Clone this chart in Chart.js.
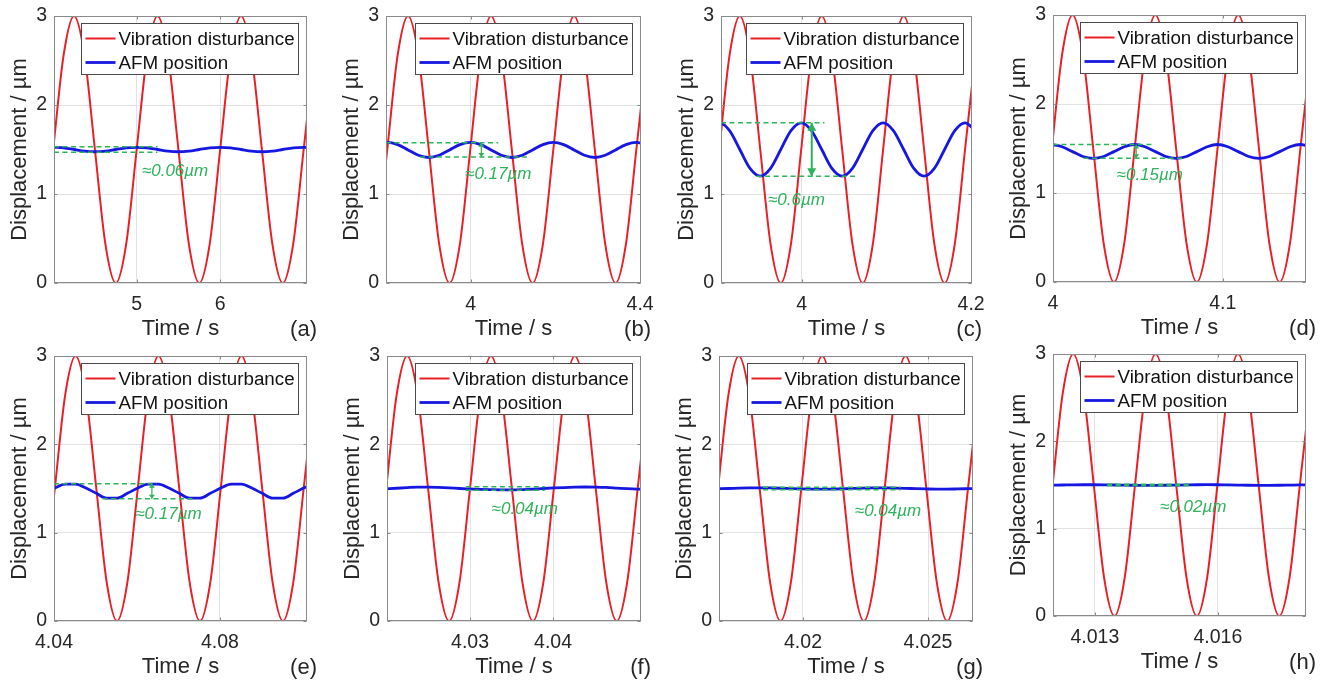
<!DOCTYPE html>
<html>
<head>
<meta charset="utf-8">
<script src="https://cdn.jsdelivr.net/npm/chart.js@4.4.1/dist/chart.umd.min.js"></script>
<style>
  html, body { margin: 0; padding: 0; background: #fff; width: 1320px; height: 686px; overflow: hidden; }
  canvas { position: absolute; }
</style>
</head>
<body>
<script>
// ---- data (time in s, displacement in µm) ----
const tA = [4, 4.125, 4.25, 4.375, 4.5, 4.625, 4.75, 4.875, 5, 5.125, 5.25, 5.375, 5.5, 5.625, 5.75, 5.875, 6, 6.125, 6.25, 6.375, 6.5, 6.625, 6.75, 6.875, 7, 7.125];
const redA = [1.5, 2.56, 3, 2.56, 1.5, 0.44, 0, 0.44, 1.5, 2.56, 3, 2.56, 1.5, 0.44, 0, 0.44, 1.5, 2.56, 3, 2.56, 1.5, 0.44, 0, 0.44, 1.5, 2.56];
const blueA = [1.525, 1.518, 1.5, 1.482, 1.475, 1.482, 1.5, 1.518, 1.525, 1.518, 1.5, 1.482, 1.475, 1.482, 1.5, 1.518, 1.525, 1.518, 1.5, 1.482, 1.475, 1.482, 1.5, 1.518, 1.525, 1.518];

const tB = [3.7785, 3.803, 3.8275, 3.852, 3.8765, 3.901, 3.9255, 3.95, 3.9745, 3.999, 4.0235, 4.048, 4.0725, 4.097, 4.1215, 4.146, 4.1705, 4.195, 4.2195, 4.244, 4.2685, 4.293, 4.3175, 4.342, 4.3665, 4.391, 4.4155];
const redB = [0.44, 1.5, 2.56, 3, 2.56, 1.5, 0.44, 0, 0.44, 1.5, 2.56, 3, 2.56, 1.5, 0.44, 0, 0.44, 1.5, 2.56, 3, 2.56, 1.5, 0.44, 0, 0.44, 1.5, 2.56];
const blueB = [1.555, 1.58, 1.555, 1.495, 1.435, 1.41, 1.435, 1.495, 1.555, 1.58, 1.555, 1.495, 1.435, 1.41, 1.435, 1.495, 1.555, 1.58, 1.555, 1.495, 1.435, 1.41, 1.435, 1.495, 1.555, 1.58, 1.555];

const tC = [3.8909, 3.903, 3.9151, 3.9272, 3.9392, 3.9513, 3.9634, 3.9755, 3.9875, 3.9996, 4.0117, 4.0238, 4.0358, 4.0479, 4.06, 4.0721, 4.0841, 4.0962, 4.1083, 4.1204, 4.1324, 4.1445, 4.1566, 4.1687, 4.1807, 4.1928, 4.2049];
const redC = [0.44, 1.5, 2.56, 3, 2.56, 1.5, 0.44, 0, 0.44, 1.5, 2.56, 3, 2.56, 1.5, 0.44, 0, 0.44, 1.5, 2.56, 3, 2.56, 1.5, 0.44, 0, 0.44, 1.5, 2.56];
const blueC = [1.712, 1.8, 1.712, 1.5, 1.288, 1.2, 1.288, 1.5, 1.712, 1.8, 1.712, 1.5, 1.288, 1.2, 1.288, 1.5, 1.712, 1.8, 1.712, 1.5, 1.288, 1.2, 1.288, 1.5, 1.712, 1.8, 1.712];

const tD = [3.9993, 4.0054, 4.0115, 4.0176, 4.0237, 4.0298, 4.0359, 4.042, 4.0481, 4.0542, 4.0603, 4.0664, 4.0725, 4.0786, 4.0847, 4.0908, 4.0969, 4.103, 4.1091, 4.1152, 4.1213, 4.1274, 4.1335, 4.1396, 4.1457, 4.1518];
const redD = [1.5, 2.56, 3, 2.56, 1.5, 0.44, 0, 0.44, 1.5, 2.56, 3, 2.56, 1.5, 0.44, 0, 0.44, 1.5, 2.56, 3, 2.56, 1.5, 0.44, 0, 0.44, 1.5, 2.56];
const blueD = [1.545, 1.52, 1.465, 1.41, 1.39, 1.41, 1.465, 1.52, 1.545, 1.52, 1.465, 1.41, 1.39, 1.41, 1.465, 1.52, 1.545, 1.52, 1.465, 1.41, 1.39, 1.41, 1.465, 1.52, 1.545, 1.52];

const tE = [4.0377, 4.0402, 4.0427, 4.0452, 4.0477, 4.0502, 4.0527, 4.0552, 4.0577, 4.0602, 4.0627, 4.0652, 4.0677, 4.0702, 4.0727, 4.0752, 4.0777, 4.0802, 4.0827, 4.0852, 4.0877, 4.0902, 4.0927, 4.0952, 4.0977, 4.1002, 4.1027];
const redE = [0.44, 1.5, 2.56, 3, 2.56, 1.5, 0.44, 0, 0.44, 1.5, 2.56, 3, 2.56, 1.5, 0.44, 0, 0.44, 1.5, 2.56, 3, 2.56, 1.5, 0.44, 0, 0.44, 1.5, 2.56];
const blueE = [1.445, 1.505, 1.55, 1.55, 1.505, 1.445, 1.39, 1.39, 1.445, 1.505, 1.55, 1.55, 1.505, 1.445, 1.39, 1.39, 1.445, 1.505, 1.55, 1.55, 1.505, 1.445, 1.39, 1.39, 1.445, 1.505, 1.55];

const tF = [4.0199, 4.02116, 4.02243, 4.02369, 4.02495, 4.02621, 4.02748, 4.02874, 4.03, 4.03126, 4.03253, 4.03379, 4.03505, 4.03631, 4.03758, 4.03884, 4.0401, 4.04136, 4.04263, 4.04389, 4.04515, 4.04641, 4.04768, 4.04894, 4.0502, 4.05146];
const redF = [1.5, 2.56, 3, 2.56, 1.5, 0.44, 0, 0.44, 1.5, 2.56, 3, 2.56, 1.5, 0.44, 0, 0.44, 1.5, 2.56, 3, 2.56, 1.5, 0.44, 0, 0.44, 1.5, 2.56];
const blueF = [1.495, 1.503, 1.51, 1.515, 1.515, 1.512, 1.507, 1.5, 1.495, 1.49, 1.487, 1.485, 1.485, 1.488, 1.493, 1.5, 1.506, 1.511, 1.515, 1.517, 1.516, 1.512, 1.505, 1.498, 1.493, 1.49];

const tG = [4.0166, 4.017017, 4.017433, 4.01785, 4.018267, 4.018683, 4.0191, 4.019517, 4.019933, 4.02035, 4.020767, 4.021183, 4.0216, 4.022017, 4.022433, 4.02285, 4.023267, 4.023683, 4.0241, 4.024517, 4.024933, 4.02535, 4.025767, 4.026183, 4.0266, 4.027017];
const redG = [1.5, 2.56, 3, 2.56, 1.5, 0.44, 0, 0.44, 1.5, 2.56, 3, 2.56, 1.5, 0.44, 0, 0.44, 1.5, 2.56, 3, 2.56, 1.5, 0.44, 0, 0.44, 1.5, 2.56];
const blueG = [1.497, 1.5, 1.504, 1.507, 1.508, 1.506, 1.503, 1.499, 1.496, 1.494, 1.493, 1.494, 1.497, 1.501, 1.505, 1.507, 1.507, 1.505, 1.502, 1.498, 1.495, 1.493, 1.493, 1.495, 1.498, 1.501];

const tH = [4.01197, 4.012221, 4.012473, 4.012724, 4.012975, 4.013226, 4.013478, 4.013729, 4.01398, 4.014231, 4.014483, 4.014734, 4.014985, 4.015236, 4.015488, 4.015739, 4.01599, 4.016241, 4.016493, 4.016744, 4.016995, 4.017246, 4.017498, 4.017749, 4.018, 4.018251];
const redH = [1.5, 2.56, 3, 2.56, 1.5, 0.44, 0, 0.44, 1.5, 2.56, 3, 2.56, 1.5, 0.44, 0, 0.44, 1.5, 2.56, 3, 2.56, 1.5, 0.44, 0, 0.44, 1.5, 2.56];
const blueH = [1.498, 1.5, 1.502, 1.503, 1.503, 1.502, 1.5, 1.498, 1.497, 1.496, 1.496, 1.497, 1.499, 1.501, 1.503, 1.504, 1.503, 1.501, 1.499, 1.497, 1.496, 1.496, 1.497, 1.499, 1.501, 1.502];

// axis ranges and ticks per panel
const xMin = [4.01, 3.80, 3.905, 4.0, 4.04, 4.02, 4.01664, 4.01198];
const xMax = [7.04, 4.402, 4.201, 4.149, 4.101, 4.0506, 4.0268, 4.01815];
const xTicks = [[5, 6], [4, 4.4], [4, 4.2], [4, 4.1], [4.04, 4.08], [4.03, 4.04], [4.02, 4.025], [4.013, 4.016]];
const xTickLabels = [['5', '6'], ['4', '4.4'], ['4', '4.2'], ['4', '4.1'], ['4.04', '4.08'], ['4.03', '4.04'], ['4.02', '4.025'], ['4.013', '4.016']];
const yTicks = [0, 1, 2, 3];
const yTickLabels = ['0', '1', '2', '3'];
const panelLetters = ['(a)', '(b)', '(c)', '(d)', '(e)', '(f)', '(g)', '(h)'];
const seriesNames = ['Vibration disturbance', 'AFM position'];

// green peak-to-peak markers
const gapHi = [1.53, 1.575, 1.8, 1.545, 1.555, 1.52, 1.515, 1.51];
const gapLo = [1.47, 1.415, 1.2, 1.39, 1.385, 1.48, 1.485, 1.49];
const hiFrom = [4.01, 3.80, 3.905, 4.0, 4.04, 4.0295, 4.0184, 4.0133];
const hiTo = [5.25, 4.065, 4.027, 4.058, 4.0647, 4.039, 4.0239, 4.0153];
const loFrom = [4.01, 3.88, 3.947, 4.018, 4.0517, 4.0295, 4.0184, 4.0133];
const loTo = [5.25, 4.134, 4.066, 4.076, 4.074, 4.039, 4.0239, 4.0153];
const arrowX = [null, 4.025, 4.012, 4.049, 4.0636, null, null, null];
const labelX = [5.46, 4.065, 3.994, 4.057, 4.0676, 4.0366, 4.0234, 4.0154];
const labelY = [1.25, 1.225, 0.93, 1.2, 1.21, 1.26, 1.24, 1.24];
const gapText = ['≈0.06µm', '≈0.17µm', '≈0.6µm', '≈0.15µm', '≈0.17µm', '≈0.04µm', '≈0.04µm', '≈0.02µm'];

const times = [tA, tB, tC, tD, tE, tF, tG, tH];
const reds = [redA, redB, redC, redD, redE, redF, redG, redH];
const blues = [blueA, blueB, blueC, blueD, blueE, blueF, blueG, blueH];

// ---- layout: plot rectangles [left, top, right, bottom] in page pixels ----
const plotBoxes = [
  [54, 16, 307, 283], [386, 16, 641, 283], [721, 16, 972, 283], [1053, 15, 1306, 282],
  [54, 356, 307, 621], [387, 356, 641, 621], [719, 356, 973, 621], [1053, 354, 1306, 616]
];
const headLen = [0, 4, 8, 4, 4, 0, 0, 0];
const headHalf = [0, 3, 4.5, 3, 3, 0, 0, 0];
const arrowWidth = [1, 1.2, 2, 1.2, 1.2, 1, 1, 1];

const RED = '#ea1f26';
const BLUE = '#1717e2';
const GREEN = '#2db35a';
const TXT = '#262626';
const FRAME = '#8a8a8a';
const FONT = '"Liberation Sans", Arial, Helvetica, sans-serif';

const Y_W = 54, PAD_R = 16, PAD_T = 16, X_H = 60;

Chart.defaults.font.family = FONT;
Chart.defaults.color = TXT;

const panelDecor = {
  id: 'panelDecor',
  afterDatasetsDraw(chart, args, opts) {
    const i = opts.idx;
    const { ctx, chartArea: a, scales: { x, y } } = chart;
    ctx.save();

    // arrow heads
    if (arrowX[i] !== null) {
      const px = x.getPixelForValue(arrowX[i]);
      const yHi = y.getPixelForValue(gapHi[i]);
      const yLo = y.getPixelForValue(gapLo[i]);
      const L = headLen[i], W = headHalf[i];
      ctx.fillStyle = GREEN;
      ctx.beginPath(); ctx.moveTo(px, yHi); ctx.lineTo(px - W, yHi + L); ctx.lineTo(px + W, yHi + L); ctx.closePath(); ctx.fill();
      ctx.beginPath(); ctx.moveTo(px, yLo); ctx.lineTo(px - W, yLo - L); ctx.lineTo(px + W, yLo - L); ctx.closePath(); ctx.fill();
    }

    // peak-to-peak label
    ctx.font = 'italic 17px ' + FONT;
    ctx.fillStyle = GREEN;
    ctx.textAlign = 'center';
    ctx.textBaseline = 'middle';
    ctx.fillText(gapText[i], x.getPixelForValue(labelX[i]), y.getPixelForValue(labelY[i]));

    // legend box (north-east, inside the axes)
    const bw = 217, bh = 51;
    const bx = Math.round(a.right - 9 - bw) + 0.5, by = Math.round(a.top + 7) + 0.5;
    ctx.fillStyle = '#fff';
    ctx.fillRect(bx, by, bw, bh);
    ctx.strokeStyle = '#4a4a4a';
    ctx.lineWidth = 1;
    ctx.strokeRect(bx, by, bw, bh);
    const rows = [[RED, 2], [BLUE, 2.8]];
    ctx.font = '18.8px ' + FONT;
    ctx.textAlign = 'left';
    rows.forEach(([col, lw], k) => {
      const ry = by + 15 + k * 24;
      ctx.strokeStyle = col;
      ctx.lineWidth = lw;
      ctx.beginPath(); ctx.moveTo(bx + 4, ry); ctx.lineTo(bx + 34, ry); ctx.stroke();
      ctx.fillStyle = '#111';
      ctx.fillText(seriesNames[k], bx + 37, ry + 1);
    });

    // axes box with inward ticks
    ctx.strokeStyle = FRAME;
    ctx.lineWidth = 1;
    const l = Math.round(a.left) + 0.5, r = Math.round(a.right) - 0.5;
    const t = Math.round(a.top) + 0.5, b = Math.round(a.bottom) - 0.5;
    ctx.strokeRect(l, t, r - l, b - t);
    ctx.beginPath();
    xTicks[i].forEach(v => {
      const px = Math.round(x.getPixelForValue(v)) + 0.5;
      ctx.moveTo(px, b); ctx.lineTo(px, b - 3);
      ctx.moveTo(px, t); ctx.lineTo(px, t + 3);
    });
    yTicks.forEach(v => {
      const py = Math.round(y.getPixelForValue(v)) + 0.5;
      ctx.moveTo(l, py); ctx.lineTo(l + 3, py);
      ctx.moveTo(r, py); ctx.lineTo(r - 3, py);
    });
    ctx.stroke();

    // panel letter
    ctx.font = '22px ' + FONT;
    ctx.fillStyle = TXT;
    ctx.textAlign = 'right';
    ctx.textBaseline = 'middle';
    ctx.fillText(panelLetters[i], a.right + 10, a.bottom + 47);
    ctx.restore();
  }
};

function pts(xs, ys) {
  return xs.map((v, k) => ({ x: v, y: ys[k] }));
}

function makePanel(i) {
  const [L, T, R, B] = plotBoxes[i];
  const cv = document.createElement('canvas');
  const w = R - L + Y_W + PAD_R, h = B - T + PAD_T + X_H;
  cv.width = w; cv.height = h;
  cv.style.left = (L - Y_W) + 'px';
  cv.style.top = (T - PAD_T) + 'px';
  cv.style.width = w + 'px';
  cv.style.height = h + 'px';
  document.body.appendChild(cv);

  const dashed = { borderColor: GREEN, borderWidth: 1.5, borderDash: [5, 3.5], pointRadius: 0, fill: false };
  const datasets = [
    Object.assign({ data: [{ x: hiFrom[i], y: gapHi[i] }, { x: hiTo[i], y: gapHi[i] }] }, dashed),
    Object.assign({ data: [{ x: loFrom[i], y: gapLo[i] }, { x: loTo[i], y: gapLo[i] }] }, dashed)
  ];
  if (arrowX[i] !== null) {
    datasets.push({
      data: [{ x: arrowX[i], y: gapHi[i] }, { x: arrowX[i], y: gapLo[i] }],
      borderColor: GREEN, borderWidth: arrowWidth[i], pointRadius: 0, fill: false
    });
  }
  datasets.push({
    label: seriesNames[1], data: pts(times[i], blues[i]),
    borderColor: BLUE, borderWidth: 2.8, pointRadius: 0, cubicInterpolationMode: 'monotone', fill: false
  });
  datasets.push({
    label: seriesNames[0], data: pts(times[i], reds[i]),
    borderColor: RED, borderWidth: 2, pointRadius: 0, cubicInterpolationMode: 'monotone', fill: false
  });

  new Chart(cv, {
    type: 'line',
    data: { datasets },
    plugins: [panelDecor],
    options: {
      responsive: false,
      animation: false,
      events: [],
      layout: { padding: { left: 0, right: PAD_R, top: PAD_T, bottom: 0 } },
      plugins: {
        legend: { display: false },
        tooltip: { enabled: false },
        panelDecor: { idx: i }
      },
      scales: {
        x: {
          type: 'linear',
          min: xMin[i],
          max: xMax[i],
          afterBuildTicks: s => { s.ticks = xTicks[i].map(v => ({ value: v })); },
          // fixed axis height; edge labels may overhang instead of shrinking the plot
          afterFit: s => { s.height = X_H; s.paddingLeft = 0; s.paddingRight = 0; },
          grid: { color: '#e2e2e2', drawTicks: false },
          border: { display: false },
          ticks: {
            padding: 10,
            autoSkip: false,
            maxRotation: 0,
            font: { size: 19.5 },
            color: TXT,
            callback: v => {
              const k = xTicks[i].indexOf(v);
              return k >= 0 ? xTickLabels[i][k] : '';
            }
          },
          title: { display: true, text: 'Time / s', font: { size: 22 }, color: TXT, padding: { top: 0, bottom: 1 } }
        },
        y: {
          min: 0,
          max: 3,
          afterBuildTicks: s => { s.ticks = yTicks.map(v => ({ value: v })); },
          afterFit: s => { s.width = Y_W; s.paddingTop = 0; s.paddingBottom = 0; },
          grid: { color: '#e2e2e2', drawTicks: false },
          border: { display: false },
          ticks: {
            padding: 7,
            font: { size: 19.5 },
            color: TXT,
            callback: v => yTickLabels[yTicks.indexOf(v)]
          },
          title: { display: true, text: 'Displacement / µm', font: { size: 22 }, color: TXT, padding: { top: 7, bottom: 0 } }
        }
      }
    }
  });
}

for (let i = 0; i < 8; i++) makePanel(i);
</script>
</body>
</html>
